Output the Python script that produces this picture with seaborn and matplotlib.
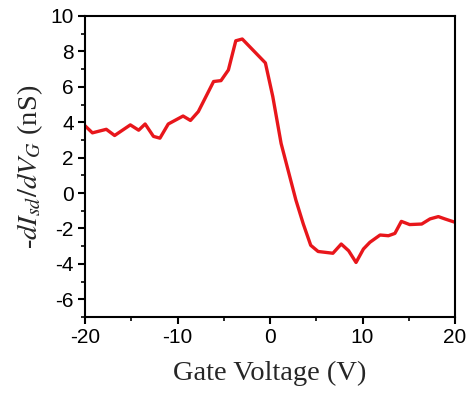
import matplotlib
matplotlib.use('Agg')
import matplotlib.pyplot as plt
from matplotlib.ticker import MultipleLocator
import seaborn as sns

gate_v = [-20, -19.2, -17.7, -16.8, -15.1, -14.2, -13.5, -12.6, -11.9, -11.0,
          -9.4, -8.6, -7.75, -6.1, -5.3, -4.5, -3.7, -3.0, -0.5, 0.3,
          1.2, 2.1, 2.8, 3.6, 4.4, 5.2, 6.8, 7.7, 8.5, 9.3,
          10.1, 10.8, 11.9, 12.8, 13.5, 14.2, 15.1, 16.4, 17.3, 18.2,
          18.9, 20]
didv = [3.8, 3.4, 3.6, 3.25, 3.85, 3.55, 3.9, 3.2, 3.1, 3.9,
        4.35, 4.1, 4.6, 6.3, 6.35, 6.95, 8.6, 8.7, 7.35, 5.45,
        2.8, 1.0, -0.4, -1.75, -2.95, -3.3, -3.4, -2.88, -3.26, -3.92,
        -3.16, -2.78, -2.37, -2.41, -2.28, -1.6, -1.78, -1.75, -1.46, -1.33,
        -1.46, -1.65]

LINE_RED = '#E8161B'

sns.set_style('ticks')
plt.rcParams.update({
    'font.family': ['Liberation Sans', 'DejaVu Sans'],
    'mathtext.fontset': 'stix',
    'axes.unicode_minus': False,
    'axes.linewidth': 1.5,
})

fig = plt.figure(figsize=(4.76, 3.95), dpi=100)
ax = fig.add_axes([0.1786, 0.1975, 0.7773, 0.762])

sns.lineplot(x=gate_v, y=didv, color=LINE_RED, linewidth=2.4,
             estimator=None, sort=False, ax=ax)

ax.set_xlim(-20, 20)
ax.set_ylim(-7, 10)
ax.xaxis.set_major_locator(MultipleLocator(10))
ax.xaxis.set_minor_locator(MultipleLocator(5))
ax.yaxis.set_major_locator(MultipleLocator(2))
ax.yaxis.set_minor_locator(MultipleLocator(1))
ax.tick_params(which='major', direction='out', length=5, width=1.5,
               labelsize=15, pad=3, color='black', labelcolor='black')
ax.tick_params(which='minor', direction='out', length=3, width=1.2, color='black')
ax.tick_params(top=False, right=False, which='both')

for s in ax.spines.values():
    s.set_visible(True)
    s.set_color('black')
    s.set_linewidth(1.5)

serif = ['Liberation Serif', 'DejaVu Serif']
ax.set_xlabel('Gate Voltage (V)', fontsize=20.5, family=serif, labelpad=10)
ax.set_ylabel(r'-$dI_{sd}/dV_G$ (nS)', fontsize=20.5, family=serif, labelpad=4)

fig.savefig('out.png', dpi=100)
